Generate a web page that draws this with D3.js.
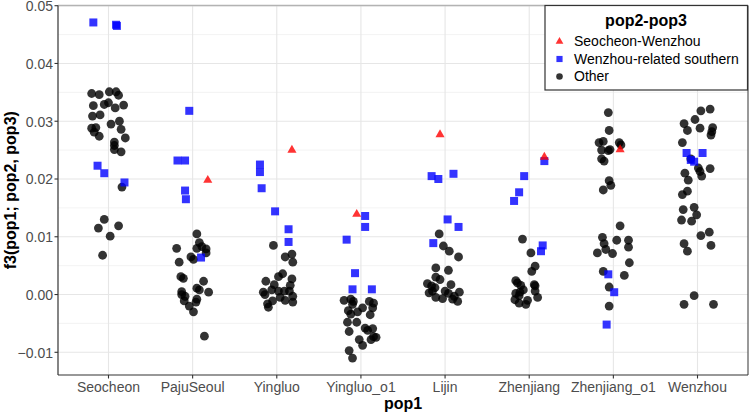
<!DOCTYPE html>
<html lang="en">
<head>
    <meta charset="UTF-8">
    <title>f3 statistics by pop1</title>
    <script src="https://d3js.org/d3.v7.min.js"></script>
    <style>
        body {
            margin: 0;
            padding: 0;
            background-color: #fff;
            font-family: "Liberation Sans", Arial, sans-serif;
        }
        svg { display: block; }
        .tick-label { font-size: 14px; fill: #4d4d4d; }
        .axis-title { font-size: 16px; font-weight: bold; fill: #000; }
        .legend-title { font-size: 16px; font-weight: bold; fill: #000; }
        .legend-label { font-size: 14px; fill: #000; }
    </style>
</head>
<body>
    <svg id="chart" width="750" height="415"></svg>

    <script>
        const pop1Cats = ["Seocheon", "PajuSeoul", "Yingluo", "Yingluo_o1", "Lijin", "Zhenjiang", "Zhenjiang_o1", "Wenzhou"];
        const yTicks = [-0.01, 0.00, 0.01, 0.02, 0.03, 0.04, 0.05];
        const seriesNames = ["Seocheon-Wenzhou", "Wenzhou-related southern", "Other"];

        // rows: [pop1, jitter (category units), f3]
        const otherRows = [
            ["Seocheon", -0.20, 0.0348], ["Seocheon", -0.11, 0.0346], ["Seocheon", 0.01, 0.0351], ["Seocheon", 0.09, 0.0351],
            ["Seocheon", 0.12, 0.0345], ["Seocheon", -0.18, 0.0327], ["Seocheon", -0.05, 0.0329], ["Seocheon", 0.00, 0.0332],
            ["Seocheon", 0.08, 0.0323], ["Seocheon", 0.18, 0.0328], ["Seocheon", -0.19, 0.0309], ["Seocheon", -0.10, 0.0311],
            ["Seocheon", 0.03, 0.0295], ["Seocheon", 0.13, 0.0300], ["Seocheon", -0.20, 0.0288], ["Seocheon", -0.15, 0.0289],
            ["Seocheon", -0.17, 0.0281], ["Seocheon", -0.11, 0.0274], ["Seocheon", 0.15, 0.0286], ["Seocheon", 0.20, 0.0271],
            ["Seocheon", 0.07, 0.0264], ["Seocheon", 0.07, 0.0258], ["Seocheon", 0.07, 0.0251], ["Seocheon", 0.15, 0.0247],
            ["Seocheon", 0.16, 0.0186], ["Seocheon", -0.05, 0.0130], ["Seocheon", -0.12, 0.0115], ["Seocheon", 0.12, 0.0119],
            ["Seocheon", 0.02, 0.0101], ["Seocheon", -0.07, 0.0068],

            ["PajuSeoul", 0.05, 0.0105], ["PajuSeoul", 0.08, 0.0090], ["PajuSeoul", -0.19, 0.0080], ["PajuSeoul", 0.05, 0.0080],
            ["PajuSeoul", 0.11, 0.0083], ["PajuSeoul", 0.16, 0.0079], ["PajuSeoul", 0.16, 0.0072], ["PajuSeoul", -0.02, 0.0065],
            ["PajuSeoul", 0.01, 0.0061], ["PajuSeoul", -0.16, 0.0056], ["PajuSeoul", -0.14, 0.0031], ["PajuSeoul", -0.11, 0.0028],
            ["PajuSeoul", 0.13, 0.0023], ["PajuSeoul", 0.05, 0.0011], ["PajuSeoul", 0.08, 0.0008], ["PajuSeoul", 0.19, 0.0004],
            ["PajuSeoul", -0.13, 0.0005], ["PajuSeoul", -0.13, 0.0000], ["PajuSeoul", -0.09, -0.0003], ["PajuSeoul", -0.10, -0.0011],
            ["PajuSeoul", -0.04, -0.0020], ["PajuSeoul", 0.01, -0.0030], ["PajuSeoul", 0.05, -0.0008], ["PajuSeoul", 0.04, -0.0013],
            ["PajuSeoul", 0.14, -0.0072],

            ["Yingluo", -0.04, 0.0085], ["Yingluo", 0.10, 0.0065], ["Yingluo", 0.18, 0.0070], ["Yingluo", 0.19, 0.0056],
            ["Yingluo", 0.07, 0.0036], ["Yingluo", 0.02, 0.0031], ["Yingluo", -0.13, 0.0023], ["Yingluo", -0.03, 0.0017],
            ["Yingluo", 0.18, 0.0027], ["Yingluo", 0.16, 0.0016], ["Yingluo", -0.16, 0.0004], ["Yingluo", -0.14, 0.0000],
            ["Yingluo", -0.06, 0.0008], ["Yingluo", 0.02, 0.0006], ["Yingluo", 0.09, 0.0006], ["Yingluo", 0.15, 0.0006],
            ["Yingluo", 0.04, -0.0005], ["Yingluo", 0.10, -0.0010], ["Yingluo", 0.19, -0.0003], ["Yingluo", 0.19, -0.0013],
            ["Yingluo", -0.05, -0.0011], ["Yingluo", -0.10, -0.0022], ["Yingluo", -0.11, -0.0016],

            ["Yingluo_o1", -0.20, -0.0010], ["Yingluo_o1", -0.12, -0.0008], ["Yingluo_o1", -0.09, -0.0012], ["Yingluo_o1", -0.10, -0.0017],
            ["Yingluo_o1", -0.15, -0.0028], ["Yingluo_o1", -0.12, -0.0034], ["Yingluo_o1", -0.04, -0.0030], ["Yingluo_o1", 0.02, -0.0023],
            ["Yingluo_o1", 0.10, -0.0012], ["Yingluo_o1", 0.15, -0.0015], ["Yingluo_o1", 0.14, -0.0023], ["Yingluo_o1", 0.11, -0.0035],
            ["Yingluo_o1", -0.16, -0.0048], ["Yingluo_o1", -0.05, -0.0048], ["Yingluo_o1", -0.14, -0.0064], ["Yingluo_o1", 0.05, -0.0058],
            ["Yingluo_o1", 0.08, -0.0062], ["Yingluo_o1", 0.14, -0.0059], ["Yingluo_o1", 0.15, -0.0073], ["Yingluo_o1", 0.18, -0.0074],
            ["Yingluo_o1", 0.12, -0.0078], ["Yingluo_o1", -0.02, -0.0078], ["Yingluo_o1", 0.02, -0.0088], ["Yingluo_o1", -0.14, -0.0097],
            ["Yingluo_o1", -0.10, -0.0110],

            ["Lijin", -0.07, 0.0105], ["Lijin", -0.02, 0.0084], ["Lijin", 0.05, 0.0075], ["Lijin", 0.16, 0.0065],
            ["Lijin", -0.11, 0.0046], ["Lijin", 0.04, 0.0042], ["Lijin", -0.11, 0.0030], ["Lijin", -0.06, 0.0026],
            ["Lijin", 0.07, 0.0017], ["Lijin", -0.21, 0.0019], ["Lijin", -0.16, 0.0015], ["Lijin", -0.12, 0.0012],
            ["Lijin", -0.19, 0.0003], ["Lijin", -0.11, -0.0005], ["Lijin", -0.03, -0.0007], ["Lijin", 0.00, 0.0006],
            ["Lijin", 0.04, 0.0002], ["Lijin", 0.09, -0.0008], ["Lijin", 0.15, -0.0012], ["Lijin", 0.17, 0.0004],
            ["Lijin", 0.11, -0.0003], ["Lijin", -0.15, 0.0006],

            ["Zhenjiang", -0.08, 0.0096], ["Zhenjiang", 0.02, 0.0072], ["Zhenjiang", 0.07, 0.0049], ["Zhenjiang", 0.03, 0.0040],
            ["Zhenjiang", -0.16, 0.0024], ["Zhenjiang", -0.14, 0.0020], ["Zhenjiang", -0.10, 0.0016], ["Zhenjiang", 0.06, 0.0017],
            ["Zhenjiang", 0.07, 0.0015], ["Zhenjiang", -0.07, 0.0008], ["Zhenjiang", -0.11, 0.0004], ["Zhenjiang", -0.16, 0.0002],
            ["Zhenjiang", -0.12, -0.0002], ["Zhenjiang", 0.07, 0.0006], ["Zhenjiang", 0.10, -0.0005], ["Zhenjiang", -0.17, -0.0009],
            ["Zhenjiang", -0.12, -0.0015], ["Zhenjiang", -0.04, -0.0017], ["Zhenjiang", -0.02, -0.0010],

            ["Zhenjiang_o1", -0.06, 0.0315], ["Zhenjiang_o1", -0.05, 0.0284], ["Zhenjiang_o1", -0.17, 0.0263], ["Zhenjiang_o1", -0.12, 0.0265],
            ["Zhenjiang_o1", 0.07, 0.0263], ["Zhenjiang_o1", 0.09, 0.0259], ["Zhenjiang_o1", -0.14, 0.0250], ["Zhenjiang_o1", -0.06, 0.0249],
            ["Zhenjiang_o1", -0.04, 0.0251], ["Zhenjiang_o1", -0.14, 0.0235], ["Zhenjiang_o1", -0.11, 0.0231], ["Zhenjiang_o1", -0.05, 0.0197],
            ["Zhenjiang_o1", -0.03, 0.0189], ["Zhenjiang_o1", -0.12, 0.0181], ["Zhenjiang_o1", 0.08, 0.0119], ["Zhenjiang_o1", -0.13, 0.0099],
            ["Zhenjiang_o1", 0.04, 0.0094], ["Zhenjiang_o1", 0.18, 0.0094], ["Zhenjiang_o1", -0.11, 0.0088], ["Zhenjiang_o1", 0.18, 0.0082],
            ["Zhenjiang_o1", -0.19, 0.0072], ["Zhenjiang_o1", -0.09, 0.0078], ["Zhenjiang_o1", -0.01, 0.0071], ["Zhenjiang_o1", 0.19, 0.0055],
            ["Zhenjiang_o1", -0.12, 0.0040], ["Zhenjiang_o1", 0.13, 0.0033], ["Zhenjiang_o1", -0.05, 0.0013], ["Zhenjiang_o1", -0.05, -0.0020],

            ["Wenzhou", 0.15, 0.0321], ["Wenzhou", 0.04, 0.0318], ["Wenzhou", -0.03, 0.0303], ["Wenzhou", -0.16, 0.0296],
            ["Wenzhou", -0.12, 0.0284], ["Wenzhou", 0.03, 0.0288], ["Wenzhou", 0.18, 0.0289], ["Wenzhou", 0.17, 0.0282],
            ["Wenzhou", 0.16, 0.0276], ["Wenzhou", -0.18, 0.0263], ["Wenzhou", -0.08, 0.0235], ["Wenzhou", 0.01, 0.0219],
            ["Wenzhou", 0.03, 0.0213], ["Wenzhou", 0.05, 0.0205], ["Wenzhou", 0.15, 0.0218], ["Wenzhou", -0.15, 0.0210],
            ["Wenzhou", -0.11, 0.0198], ["Wenzhou", -0.12, 0.0179], ["Wenzhou", -0.18, 0.0173], ["Wenzhou", -0.17, 0.0147],
            ["Wenzhou", -0.04, 0.0151], ["Wenzhou", -0.01, 0.0138], ["Wenzhou", -0.19, 0.0129], ["Wenzhou", -0.07, 0.0127],
            ["Wenzhou", 0.04, 0.0102], ["Wenzhou", 0.14, 0.0108], ["Wenzhou", -0.16, 0.0088], ["Wenzhou", 0.16, 0.0085],
            ["Wenzhou", -0.12, 0.0075], ["Wenzhou", -0.04, -0.0002], ["Wenzhou", -0.16, -0.0017], ["Wenzhou", 0.19, -0.0017]
        ];

        const southernRows = [
            ["Seocheon", -0.18, 0.0471], ["Seocheon", 0.09, 0.0467], ["Seocheon", 0.10, 0.0465],
            ["Seocheon", -0.13, 0.0223], ["Seocheon", -0.05, 0.0210], ["Seocheon", 0.19, 0.0194],
            ["PajuSeoul", -0.04, 0.0318], ["PajuSeoul", -0.18, 0.0232], ["PajuSeoul", -0.09, 0.0232],
            ["PajuSeoul", -0.09, 0.0180], ["PajuSeoul", -0.08, 0.0165], ["PajuSeoul", 0.10, 0.0064],
            ["Yingluo", -0.20, 0.0225], ["Yingluo", -0.20, 0.0212], ["Yingluo", -0.18, 0.0184],
            ["Yingluo", -0.02, 0.0144], ["Yingluo", 0.14, 0.0113], ["Yingluo", 0.14, 0.0091],
            ["Yingluo_o1", 0.05, 0.0136], ["Yingluo_o1", 0.05, 0.0117], ["Yingluo_o1", -0.17, 0.0095],
            ["Yingluo_o1", -0.07, 0.0037], ["Yingluo_o1", -0.10, 0.0009], ["Yingluo_o1", 0.13, 0.0009],
            ["Lijin", -0.16, 0.0205], ["Lijin", -0.08, 0.0200], ["Lijin", 0.10, 0.0209],
            ["Lijin", 0.03, 0.0130], ["Lijin", 0.16, 0.0117], ["Lijin", -0.14, 0.0089],
            ["Zhenjiang", 0.18, 0.0231], ["Zhenjiang", -0.06, 0.0205], ["Zhenjiang", -0.12, 0.0177],
            ["Zhenjiang", -0.18, 0.0162], ["Zhenjiang", 0.16, 0.0085], ["Zhenjiang", 0.14, 0.0075],
            ["Zhenjiang_o1", -0.06, 0.0035], ["Zhenjiang_o1", 0.01, 0.0004], ["Zhenjiang_o1", -0.08, -0.0052],
            ["Wenzhou", -0.13, 0.0245], ["Wenzhou", 0.06, 0.0245], ["Wenzhou", -0.08, 0.0233], ["Wenzhou", -0.04, 0.0230]
        ];

        const seoWenRows = [
            ["PajuSeoul", 0.18, 0.0198], ["Yingluo", 0.18, 0.0250], ["Yingluo_o1", -0.05, 0.0139],
            ["Lijin", -0.06, 0.0277], ["Zhenjiang", 0.18, 0.0238], ["Zhenjiang_o1", 0.08, 0.0251]
        ];

        const svg = d3.select("#chart");
        const panel = { left: 58, right: 748, top: 5.5, bottom: 375 };

        const x = d3.scalePoint()
            .domain(pop1Cats)
            .range([panel.left, panel.right])
            .padding(0.6);

        const y = d3.scaleLinear()
            .domain([-0.01, 0.05])
            .range([352.3, 5.7]);

        const minorTicks = d3.range(-0.01, 0.0501, 0.005).filter(v => Math.abs(Math.round(v * 1000) % 10) === 5);

        // grid
        const grid = svg.append("g");
        grid.selectAll(".minor")
            .data(minorTicks)
            .enter().append("line")
            .attr("x1", panel.left).attr("x2", panel.right)
            .attr("y1", d => y(d)).attr("y2", d => y(d))
            .attr("stroke", "#f0f0f0").attr("stroke-width", 0.8);
        grid.selectAll(".major-y")
            .data(yTicks)
            .enter().append("line")
            .attr("x1", panel.left).attr("x2", panel.right)
            .attr("y1", d => y(d)).attr("y2", d => y(d))
            .attr("stroke", "#e6e6e6").attr("stroke-width", 1.1);
        grid.selectAll(".major-x")
            .data(pop1Cats)
            .enter().append("line")
            .attr("x1", d => x(d)).attr("x2", d => x(d))
            .attr("y1", panel.top).attr("y2", panel.bottom)
            .attr("stroke", "#e6e6e6").attr("stroke-width", 1.1);

        // points
        const sym = (type, size) => d3.symbol().type(type).size(size)();
        const px = d => x(d[0]) + d[1] * x.step();
        const pts = svg.append("g");

        pts.selectAll(".other")
            .data(otherRows)
            .enter().append("circle")
            .attr("cx", px)
            .attr("cy", d => y(d[2]))
            .attr("r", 4.4)
            .attr("fill", "#000")
            .attr("fill-opacity", 0.8);

        pts.selectAll(".southern")
            .data(southernRows)
            .enter().append("path")
            .attr("d", sym(d3.symbolSquare, 64))
            .attr("transform", d => `translate(${px(d)},${y(d[2])})`)
            .attr("fill", "#0000ff")
            .attr("fill-opacity", 0.8);

        pts.selectAll(".seowen")
            .data(seoWenRows)
            .enter().append("path")
            .attr("d", sym(d3.symbolTriangle, 36))
            .attr("transform", d => `translate(${px(d)},${y(d[2])})`)
            .attr("fill", "#ff0000")
            .attr("fill-opacity", 0.8);

        // panel border and axes
        svg.append("line")
            .attr("x1", panel.left).attr("x2", panel.right)
            .attr("y1", panel.top).attr("y2", panel.top)
            .attr("stroke", "#b3b3b3").attr("stroke-width", 1.5);
        svg.append("line")
            .attr("x1", panel.right).attr("x2", panel.right)
            .attr("y1", panel.top).attr("y2", panel.bottom)
            .attr("stroke", "#555").attr("stroke-width", 1.2);
        svg.append("line")
            .attr("x1", panel.left).attr("x2", panel.left)
            .attr("y1", panel.top).attr("y2", panel.bottom)
            .attr("stroke", "#333").attr("stroke-width", 1.2);
        svg.append("line")
            .attr("x1", panel.left).attr("x2", panel.right)
            .attr("y1", panel.bottom).attr("y2", panel.bottom)
            .attr("stroke", "#333").attr("stroke-width", 1.2);

        // y ticks
        const yAxis = svg.append("g");
        yAxis.selectAll("line")
            .data(yTicks)
            .enter().append("line")
            .attr("x1", panel.left - 3.5).attr("x2", panel.left)
            .attr("y1", d => y(d)).attr("y2", d => y(d))
            .attr("stroke", "#333").attr("stroke-width", 1.1);
        yAxis.selectAll("text")
            .data(yTicks)
            .enter().append("text")
            .attr("class", "tick-label")
            .attr("x", panel.left - 5)
            .attr("y", d => y(d))
            .attr("dy", "0.39em")
            .attr("text-anchor", "end")
            .text(d => d3.format(".2f")(d));

        // x ticks
        const xAxis = svg.append("g");
        xAxis.selectAll("line")
            .data(pop1Cats)
            .enter().append("line")
            .attr("x1", d => x(d)).attr("x2", d => x(d))
            .attr("y1", panel.bottom).attr("y2", panel.bottom + 3.5)
            .attr("stroke", "#333").attr("stroke-width", 1.1);
        xAxis.selectAll("text")
            .data(pop1Cats)
            .enter().append("text")
            .attr("class", "tick-label")
            .attr("x", d => x(d))
            .attr("y", 391.5)
            .attr("text-anchor", "middle")
            .text(d => d);

        // axis titles
        svg.append("text")
            .attr("class", "axis-title")
            .attr("x", (panel.left + panel.right) / 2)
            .attr("y", 408.5)
            .attr("text-anchor", "middle")
            .text("pop1");
        svg.append("text")
            .attr("class", "axis-title")
            .attr("transform", `translate(15.5,${(panel.top + panel.bottom) / 2}) rotate(-90)`)
            .attr("text-anchor", "middle")
            .text("f3(pop1; pop2, pop3)");

        // legend
        const legend = svg.append("g");
        legend.append("rect")
            .attr("x", 545).attr("y", 5.5)
            .attr("width", 202.5).attr("height", 84.5)
            .attr("fill", "#fff")
            .attr("stroke", "#333").attr("stroke-width", 1.2);
        legend.append("text")
            .attr("class", "legend-title")
            .attr("x", 646)
            .attr("y", 25.5)
            .attr("text-anchor", "middle")
            .text("pop2-pop3");

        const legendSyms = [
            { type: d3.symbolTriangle, size: 26, color: "#ff0000" },
            { type: d3.symbolSquare, size: 38, color: "#0000ff" },
            { type: d3.symbolCircle, size: 34, color: "#000" }
        ];
        const legendY = d3.scalePoint().domain(seriesNames).range([41.5, 76.5]);

        const items = legend.selectAll(".item")
            .data(seriesNames)
            .enter().append("g")
            .attr("transform", d => `translate(559.5,${legendY(d)})`);
        items.append("path")
            .attr("d", (d, i) => sym(legendSyms[i].type, legendSyms[i].size))
            .attr("fill", (d, i) => legendSyms[i].color)
            .attr("fill-opacity", 0.8);
        items.append("text")
            .attr("class", "legend-label")
            .attr("x", 14.5)
            .attr("dy", "0.35em")
            .text(d => d);
    </script>
</body>
</html>
